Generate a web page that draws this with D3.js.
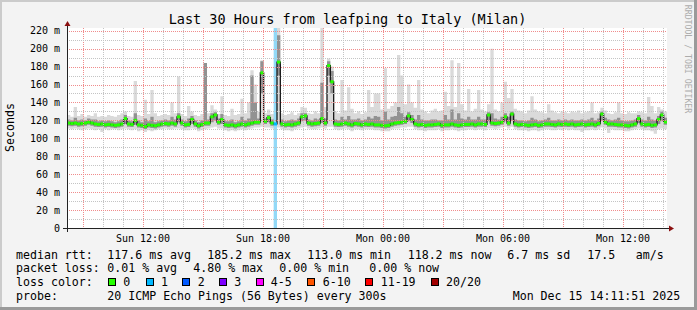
<!DOCTYPE html>
<html><head><meta charset="utf-8">
<script src="https://cdn.jsdelivr.net/npm/d3@7"></script>
<style>
body{margin:0;background:#f0f0f0}
svg{display:block}
text{font-family:"DejaVu Sans Mono",monospace;fill:#000}
</style>
</head><body><svg id="c" width="697" height="310"></svg>
<script>
// ---------------- data ----------------
const titleText = "Last 30 Hours from leafping to Italy (Milan)";
const yAxisTitle = "Seconds";
const startTime = Date.UTC(2025, 11, 14, 8, 11, 51);
const endTime = Date.UTC(2025, 11, 15, 14, 11, 51);
const stepMinutes = 10;

// median rtt per 10-minute step (ms)
const median = [
117,116.5,117,116,116.5,117,118,117,116,115.5,
116,115,115.5,115,114.5,115,116,122,116,115.5,
120,115,114.5,113,115,114.5,114,115,116,116.5,
116,117,116,124,117,115,115.5,121,116,114,
115.5,117,117,124,126,118,121,115,114.5,115,
114,115,116,115,116,117,118,118,173,119,
123,117,116,185,116,115,115.5,115,116,117,
124,125,117,116,116.5,117,122,117,181,163,
116,115.5,116,117,116,115,116.5,116,115,116,
115.5,116,115,115,114.5,114,114.5,116,117,117.5,
118,119,125,121,116,115,115.5,114.5,115,115,
115.5,116,114.5,115,115,116,115,114.5,115,115.5,
115.5,116,115,116,116,115.5,126,117,116.5,117,
118,124,117,127,116,115,115.5,115,114.5,115,
115.5,114.5,115,116,116,115.5,115,116,115.5,116,
115.5,116,115,115.5,116,115,115.5,116,115,116.5,
127,118,116,116,115.5,115,115,114.5,114,115,
116,122,116,115,115.5,114.5,115,121,126,118.2
];
// smoke: slowest ping per step
const smokeMax = [
126,124,135,125,127,124,126,125,128,124,
125,124,126,125,124,126,128,130,125,124,
164,126,125,143,127,154,128,125,126,127,
126,140,128,169,127,125,136,130,126,125,
127,184,128,137,132,127,147,126,125,133,
126,127,144,128,140,176,160,130,187,128,
132,127,130,224,128,126,127,129,126,128,
135,134,128,127,130,128,224,135,189,180,
130,128,165,131,157,133,128,130,127,129,
154,135,150,150,132,178,133,136,140,193,
170,138,160,140,134,165,132,130,128,131,
133,130,131,152,136,187,135,184,138,131,
155,130,133,154,132,130,138,200,132,130,
140,163,145,155,133,131,130,128,131,147,
132,130,129,128,138,131,129,128,130,129,
128,130,129,131,128,129,130,140,128,129,
134,131,128,127,129,140,128,127,129,128,
128,130,129,128,146,136,128,135,132,130
];
// smoke: upper quantile per step
const smokeHi = [
121,120,123,120,121,120,122,121,121,119,
120,119,120,119,118,119,121,126,120,119,
128,120,118,122,119,124,118,119,120,121,
120,124,121,128,121,119,122,125,120,118,
120,184,121,128,129,122,127,119,119,121,
118,119,124,120,122,170,140,122,186,122,
126,121,122,215,121,119,120,121,120,122,
128,128,121,120,122,121,162,122,186,175,
121,120,124,121,125,121,121,122,120,121,
124,122,125,124,120,130,121,124,125,135,
128,124,129,126,121,126,121,120,120,121,
121,120,120,126,121,132,121,128,122,121,
124,121,121,124,121,121,129,128,122,121,
124,128,124,130,121,120,120,119,120,123,
121,119,120,121,123,120,120,121,120,121,
120,121,120,120,121,120,121,123,120,122,
130,123,121,120,121,123,120,119,119,120,
121,126,121,120,124,121,120,125,130,123
];
// smoke: lower quantile per step
const smokeLo = [
114,113.5,114,113,113.5,114,115,114,113,112.5,
113,112,112.5,112,111.5,112,113,116,113,112.5,
115,112,111.5,110.5,112,111.5,111,112,113,113.5,
113,114,113,118,114,112,112.5,116,113,111,
112.5,114,114,118,120,115,116,112,111.5,112,
111,112,113,112,113,114,115,115,150,116,
118,114,113,170,113,112,112.5,112,113,114,
119,120,114,113,113.5,114,117,114,170,150,
113,112.5,113,114,113,112,113.5,113,112,113,
112.5,113,112,112,111.5,111,111.5,113,114,114.5,
115,116,119,117,113,112,112.5,111.5,112,112,
112.5,113,111.5,112,112,113,112,111.5,112,112.5,
112.5,113,112,113,113,112.5,119,114,113.5,114,
115,119,114,120,113,112,112.5,112,111.5,112,
112.5,111.5,112,113,113,112.5,112,113,112.5,113,
112.5,113,112,112.5,113,112,112.5,113,112,113.5,
120,115,113,113,112.5,112,112,111.5,111,112,
113,117,113,112,112.5,111.5,112,116,119,115
];
// smoke: fastest ping per step
const smokeMin = [
111,110,111,110,109,110,111,110,109,110,
107,110,109,110,110,109,110,111,110,109,
110,108,109,107,109,108,109,110,110,111,
110,110,111,111,110,109,109,111,110,108,
109,110,111,112,113,111,111,109,108,109,
108,109,110,109,110,111,112,112,113,112,
112,111,110,112,110,109,109,108,110,111,
112,113,111,110,110,111,112,111,113,113,
110,109,110,111,110,108,110,110,109,110,
110,110,109,109,108,108,108,110,111,111,
112,112,113,113,110,109,109,108,109,109,
109,110,108,109,109,110,109,108,109,109,
110,110,109,110,110,109,111,111,110,111,
112,113,111,113,110,109,109,109,108,109,
109,108,109,110,110,109,109,110,109,110,
109,110,109,109,107,109,109,110,109,110,
112,111,106,110,109,109,109,108,108,109,
110,111,110,109,109,108,105,110,111,110
];
// loss class per step (index into lossColors)
const loss = [
0,0,0,0,0,0,0,0,0,0, 0,0,0,0,0,0,0,0,0,0,
0,0,0,0,0,0,0,0,0,0, 0,0,0,0,0,0,0,0,0,0,
0,0,0,0,0,0,0,0,0,0, 0,0,0,0,0,0,0,0,0,0,
0,0,1,0,0,0,0,0,0,0, 0,0,0,0,0,0,0,0,0,0,
0,0,0,0,0,0,0,0,0,0, 0,0,0,0,0,0,0,0,0,0,
0,0,0,0,0,0,0,0,0,0, 0,0,0,0,0,0,0,0,0,0,
0,0,0,0,0,0,0,0,0,0, 0,0,0,0,0,0,0,0,0,0,
0,0,0,0,0,0,0,0,0,0, 0,0,0,0,0,0,0,0,0,0,
0,0,0,0,0,0,0,0,0,0, 0,0,0,0,0,0,0,0,0,0
];
const yTicks = [0,20,40,60,80,100,120,140,160,180,200,220];
const lossLabels = ["0","1","2","3","4-5","6-10","11-19","20/20"];
const lossColors = ["#26ff00","#00b8ff","#0059ff","#7e00ff","#ff00ff","#ff5500","#ff0000","#a10000"];
const rttStats = ["117.6 ms avg","185.2 ms max","113.0 ms min","118.2 ms now","6.7 ms sd","17.5","am/s"];
const lossStats = ["0.01 % avg","4.80 % max","0.00 % min","0.00 % now"];
const probeText = "20 ICMP Echo Pings (56 Bytes) every 300s";
const stampText = "Mon Dec 15 14:11:51 2025";
const watermark = "RRDTOOL / TOBI OETIKER";

// ---------------- drawing ----------------
const W = 697, H = 310;
const L = 67, R = 667, T = 28, B = 228;
const svg = d3.select("#c");
const stepMs = stepMinutes * 60000;
const N = median.length;

// frame
svg.append("rect").attr("width", W).attr("height", H).attr("fill", "#f3f3f3");
svg.append("rect").attr("x",0).attr("y",0).attr("width",W).attr("height",2).attr("fill","#cbcbcb");
svg.append("rect").attr("x",0).attr("y",0).attr("width",2).attr("height",H).attr("fill","#cbcbcb");
svg.append("rect").attr("x",0).attr("y",H-3).attr("width",W).attr("height",3).attr("fill","#9a9a9a");
svg.append("rect").attr("x",W-3).attr("y",0).attr("width",3).attr("height",H).attr("fill","#9a9a9a");

const x = d3.scaleUtc().domain([startTime, endTime]).range([L, R]);
const y = d3.scaleLinear().domain([0, 223]).range([B, T]);

svg.append("defs").append("clipPath").attr("id","pc")
  .append("rect").attr("x",L).attr("y",T).attr("width",R-L).attr("height",B-T);

svg.append("rect").attr("x",L).attr("y",T).attr("width",R-L).attr("height",B-T).attr("fill","#ffffff");

const plot = svg.append("g").attr("clip-path","url(#pc)");

const pts = d3.range(N+1).map(i => ({t: startTime + i*stepMs, k: Math.min(i, N-1)}));
const area = (lo, hi) => d3.area().curve(d3.curveStepAfter)
  .x(d => x(d.t)).y0(d => y(lo[d.k])).y1(d => y(hi[d.k]));

plot.append("path").datum(pts).attr("d", area(smokeMin, smokeMax)).attr("fill","#dadada");
plot.append("path").datum(pts).attr("d", area(smokeLo, smokeHi)).attr("fill","#929292");

// loss bands (full height)
loss.forEach((c, i) => {
  if (c > 0) {
    plot.append("rect")
      .attr("x", x(startTime + i*stepMs)).attr("y", T)
      .attr("width", x(startTime + (i+1)*stepMs) - x(startTime + i*stepMs))
      .attr("height", B - T).attr("fill", "#92d9f7");
  }
});

// grid
const crisp = v => Math.round(v) + 0.5;
const gridG = svg.append("g");
d3.utcHour.range(startTime, endTime).forEach(t => {
  const major = t.getUTCHours() % 3 === 0;
  gridG.append("line").attr("x1",crisp(x(t))).attr("x2",crisp(x(t)))
    .attr("y1",T).attr("y2",B)
    .attr("stroke", major ? "#f08c8c" : "#c4c4c4")
    .attr("stroke-dasharray","1,1").attr("stroke-width",1);
});
d3.range(10, 223, 10).forEach(v => {
  const major = v % 20 === 0;
  gridG.append("line").attr("x1",L).attr("x2",R)
    .attr("y1",crisp(y(v))).attr("y2",crisp(y(v)))
    .attr("stroke", major ? "#f08c8c" : "#c4c4c4")
    .attr("stroke-dasharray","1,1").attr("stroke-width",1);
});

// median line
const medLine = d3.line().curve(d3.curveStepAfter)
  .x(d => x(d.t)).y(d => y(median[d.k]));
plot.append("path").datum(pts).attr("d", medLine)
  .attr("fill","none").attr("stroke","#1a1a1a").attr("stroke-width",1.3);
// median colored bands
median.forEach((m, i) => {
  const x0 = x(startTime + i*stepMs), x1 = x(startTime + (i+1)*stepMs);
  plot.append("rect").attr("x", x0).attr("y", y(m) - 1.5)
    .attr("width", x1 - x0).attr("height", 3).attr("fill", lossColors[loss[i]]);
});

// axes
svg.append("line").attr("x1",L-4).attr("x2",R+3).attr("y1",B+0.5).attr("y2",B+0.5)
  .attr("stroke","#222").attr("stroke-width",1);
svg.append("line").attr("x1",L+0.5).attr("x2",L+0.5).attr("y1",B+4).attr("y2",T-3)
  .attr("stroke","#222").attr("stroke-width",1);
svg.append("path").attr("d",`M${L-2.5},${T-2} L${L+3.5},${T-2} L${L+0.5},${T-7} Z`).attr("fill","#8b1010");
svg.append("path").attr("d",`M${R+2},${B-2.5} L${R+2},${B+3.5} L${R+7},${B+0.5} Z`).attr("fill","#8b1010");

// y labels
yTicks.forEach(v => {
  svg.append("text").attr("x", 60).attr("y", y(v) + 3.5)
    .attr("text-anchor","end").attr("font-size","10px")
    .text(v === 0 ? "0" : v + " m");
});
// x labels
d3.utcHour.every(6).range(startTime, endTime).forEach(t => {
  svg.append("text").attr("x", x(t)).attr("y", 241.5)
    .attr("text-anchor","middle").attr("font-size","10px")
    .text(d3.utcFormat("%a %H:%M")(t));
});

// title
svg.append("text").attr("x", 347.5).attr("y", 23.5).attr("text-anchor","middle")
  .attr("font-size","13.5px").text(titleText);
// y axis title
svg.append("text").attr("transform","translate(14,127.5) rotate(-90)")
  .attr("text-anchor","middle").attr("font-size","11.6px").text(yAxisTitle);
// watermark
svg.append("text").attr("transform","translate(684.5,59) rotate(90)")
  .attr("text-anchor","middle").attr("font-size","8.2px").style("fill","#acacac").text(watermark);

// legend
const lf = "11.6px";
const leg = (tx, lx, ly) => svg.append("text").attr("x", lx).attr("y", ly)
  .attr("font-size", lf).attr("xml:space","preserve").style("white-space","pre").text(tx);
const r1 = 258.5, r2 = 272, r3 = 286, r4 = 300;
leg("median rtt:", 16, r1);
[107.3, 207.3, 307.3, 407.7, 507.3, 587.3, 635.7].forEach((px, i) => leg(rttStats[i], px, r1));
leg("packet loss:", 16, r2);
[107.3, 193.3, 279.3, 369.3].forEach((px, i) => leg(lossStats[i], px, r2));
leg("loss color:", 16, r3);
const boxX = [108.3, 145.7, 182.3, 219, 255.7, 307.3, 365, 430.7];
const labX = [123.3, 161, 197.7, 234.3, 270.7, 322.7, 380.7, 446];
lossLabels.forEach((lb, i) => {
  svg.append("rect").attr("x", Math.round(boxX[i]) + 0.5).attr("y", 278.5)
    .attr("width", 7).attr("height", 7).attr("fill", lossColors[i])
    .attr("stroke", "#000").attr("stroke-width", 1);
  leg(lb, labX[i], r3);
});
leg("probe:", 16, r4);
leg(probeText, 107.3, r4);
leg(stampText, 512.7, r4);
</script></body></html>
